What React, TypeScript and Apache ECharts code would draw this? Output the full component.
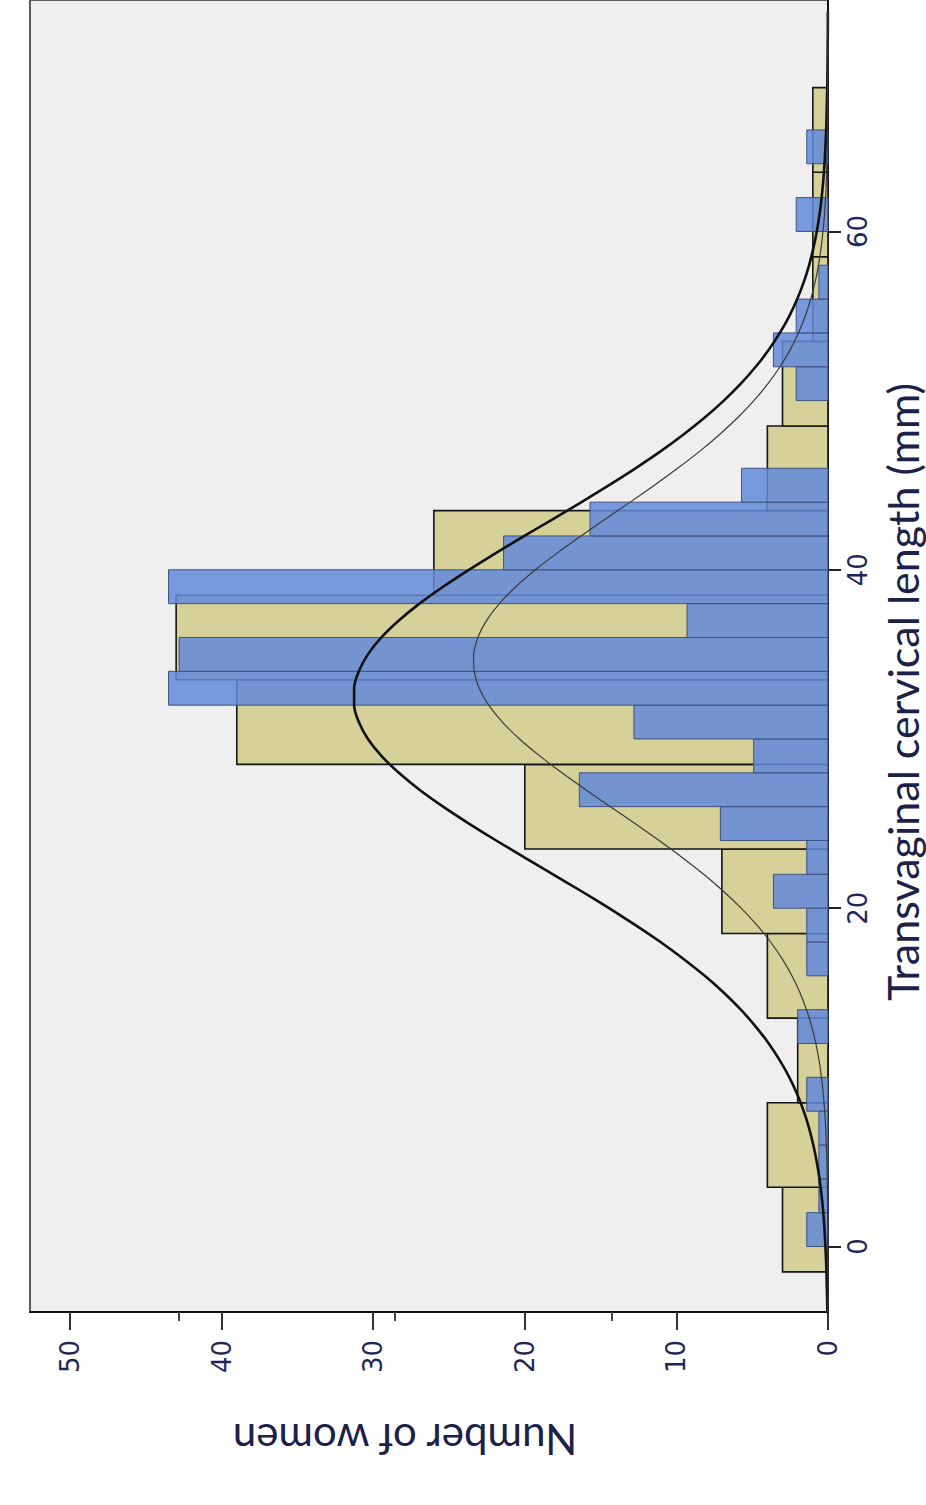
import React, { useEffect, useRef } from "react";
import * as echarts from "echarts";

// Transvaginal cervical length histograms (mm) – counts of women
const tanBinEdges = [-1.5, 3.5, 8.5, 13.5, 18.5, 23.5, 28.5, 33.5, 38.5, 43.5, 48.5, 53.5, 58.5, 63.5, 68.5];
const tanCounts = [3, 4, 2, 4, 7, 20, 39, 43, 26, 4, 3, 1, 1, 1];

const blueBinEdges = [0, 2, 4, 6, 8, 10, 12, 14, 16, 18, 20, 22, 24, 26, 28, 30, 32, 34, 36, 38, 40, 42, 44, 46, 48, 50, 52, 54, 56, 58, 60, 62, 64, 66];
const blueCounts = [1.4, 0.6, 0.6, 0.6, 1.4, 0, 2.0, 0, 1.4, 1.4, 3.6, 1.4, 7.1, 16.4, 4.9, 12.8, 43.5, 42.8, 9.3, 43.5, 21.4, 15.7, 5.7, 0, 0, 2.1, 3.6, 2.1, 0.6, 0, 2.1, 0, 1.4];

// Fitted curves (count at each length, 1 mm steps)
const curveMM = [
  -4, -3, -2, -1, 0, 1, 2, 3, 4, 5, 6, 7, 8, 9, 10, 11, 12, 13, 14, 15, 16, 17, 18, 19,
  20, 21, 22, 23, 24, 25, 26, 27, 28, 29, 30, 31, 32, 33, 34, 35, 36, 37, 38, 39, 40, 41,
  42, 43, 44, 45, 46, 47, 48, 49, 50, 51, 52, 53, 54, 55, 56, 57, 58, 59, 60, 61, 62, 63,
  64, 65, 66, 67, 68, 69, 70, 71, 72, 73,
];
const thickFit = [
  0.04, 0.06, 0.09, 0.12, 0.17, 0.23, 0.31, 0.42, 0.56, 0.74, 0.97, 1.25, 1.6, 2.03, 2.55, 3.18,
  3.91, 4.77, 5.75, 6.87, 8.13, 9.53, 11.05, 12.7, 14.44, 16.26, 18.14, 20.03, 21.89, 23.69,
  25.39, 26.95, 28.31, 29.46, 30.35, 30.95, 31.26, 31.26, 30.95, 30.35, 29.46, 28.31, 26.95,
  25.39, 23.69, 21.89, 20.03, 18.14, 16.26, 14.44, 12.7, 11.05, 9.53, 8.13, 6.87, 5.75, 4.77,
  3.91, 3.18, 2.55, 2.03, 1.6, 1.25, 0.97, 0.74, 0.56, 0.42, 0.31, 0.23, 0.17, 0.12, 0.09,
  0.06, 0.04, 0.03, 0.02, 0.01, 0.01,
];
const thinFit = [
  0, 0, 0, 0, 0.01, 0.01, 0.02, 0.03, 0.05, 0.07, 0.11, 0.15, 0.22, 0.31, 0.43, 0.59, 0.8,
  1.07, 1.42, 1.85, 2.38, 3.02, 3.79, 4.69, 5.73, 6.9, 8.2, 9.62, 11.14, 12.73, 14.36, 15.98,
  17.55, 19.02, 20.35, 21.48, 22.38, 23.01, 23.34, 23.38, 23.1, 22.53, 21.68, 20.59, 19.3,
  17.85, 16.3, 14.68, 13.05, 11.45, 9.92, 8.47, 7.15, 5.95, 4.89, 3.96, 3.17, 2.5, 1.95, 1.5,
  1.14, 0.85, 0.63, 0.46, 0.33, 0.23, 0.16, 0.11, 0.08, 0.05, 0.04, 0.02, 0.02, 0.01, 0.01,
  0, 0, 0,
];

const lengthTicks = [0, 20, 40, 60];
const countTicks = [0, 10, 20, 30, 40, 50];
const secondaryTicks = [14.29, 28.57, 42.86];

const xTitle = "Transvaginal cervical length (mm)";
const yTitle = "Number of women";

export default function App() {
  const ref = useRef<HTMLDivElement>(null);

  useEffect(() => {
    if (!ref.current) return;
    const chart = echarts.init(ref.current, undefined, { renderer: "svg" });

    const tanData = tanCounts.map((c, i) => [tanBinEdges[i], tanBinEdges[i + 1], c]);
    const blueData = blueCounts.map((c, i) => [blueBinEdges[i], blueBinEdges[i + 1], c]);

    const makeRender = (style: any) => (params: any, api: any) => {
      const lo = api.value(0);
      const hi = api.value(1);
      const c = api.value(2);
      if (!c) return null;
      const p1 = api.coord([0, hi]);
      const p2 = api.coord([c, lo]);
      return {
        type: "rect",
        shape: {
          x: Math.min(p1[0], p2[0]),
          y: Math.min(p1[1], p2[1]),
          width: Math.abs(p2[0] - p1[0]),
          height: Math.abs(p2[1] - p1[1]),
        },
        style,
      };
    };

    const labelColor = "#1f2658";

    chart.setOption({
      animation: false,
      grid: {
        left: 30,
        right: 98,
        top: -4,
        bottom: 193,
        show: true,
        backgroundColor: "#efefef",
        borderColor: "#5a5a5a",
        borderWidth: 2,
        containLabel: false,
      },
      xAxis: [
        {
          type: "value",
          inverse: true,
          min: 0,
          max: 52.64,
          position: "bottom",
          axisLine: { show: true, onZero: false, lineStyle: { color: "#111", width: 2 } },
          axisTick: {
            show: true,
            length: 18,
            customValues: countTicks,
            lineStyle: { color: "#333", width: 2 },
          },
          axisLabel: {
            show: true,
            customValues: countTicks,
            rotate: 90,
            margin: 28,
            fontSize: 26,
            fontFamily: "DejaVu Sans",
            color: labelColor,
          },
          splitLine: { show: false },
        },
        {
          type: "value",
          inverse: true,
          min: 0,
          max: 52.64,
          position: "bottom",
          axisLine: { show: false, onZero: false },
          axisTick: {
            show: true,
            length: 9,
            customValues: secondaryTicks,
            lineStyle: { color: "#444", width: 2 },
          },
          axisLabel: { show: false },
          splitLine: { show: false },
        },
      ],
      yAxis: {
        type: "value",
        position: "right",
        min: -3.87,
        max: 73.68,
        axisLine: { show: true, onZero: false, lineStyle: { color: "#111", width: 2 } },
        axisTick: {
          show: true,
          length: 13,
          customValues: lengthTicks,
          lineStyle: { color: "#222", width: 2 },
        },
        axisLabel: {
          show: true,
          customValues: lengthTicks,
          rotate: 90,
          margin: 17,
          fontSize: 26,
          fontFamily: "DejaVu Sans",
          color: labelColor,
        },
        splitLine: { show: false },
      },
      series: [
        {
          type: "custom",
          name: "tan",
          xAxisIndex: 0,
          yAxisIndex: 0,
          z: 2,
          encode: { x: 2, y: [0, 1] },
          data: tanData,
          renderItem: makeRender({ fill: "#d5d198", stroke: "#151515", lineWidth: 1.6 }),
        },
        {
          type: "custom",
          name: "blue",
          xAxisIndex: 0,
          yAxisIndex: 0,
          z: 3,
          encode: { x: 2, y: [0, 1] },
          data: blueData,
          renderItem: makeRender({ fill: "rgba(98,138,218,0.85)", stroke: "#3f527e", lineWidth: 1 }),
        },
        {
          type: "line",
          name: "fit tan",
          xAxisIndex: 0,
          yAxisIndex: 0,
          z: 5,
          symbol: "none",
          smooth: 0.2,
          lineStyle: { color: "#111", width: 2.6 },
          data: curveMM.map((m, i) => [thickFit[i], m]),
        },
        {
          type: "line",
          name: "fit blue",
          xAxisIndex: 0,
          yAxisIndex: 0,
          z: 5,
          symbol: "none",
          smooth: 0.2,
          lineStyle: { color: "#3a3a3a", width: 1.2 },
          data: curveMM.map((m, i) => [thinFit[i], m]),
        },
      ],
      graphic: [
        {
          type: "text",
          x: 902,
          y: 692,
          rotation: Math.PI / 2,
          style: {
            text: xTitle,
            fontSize: 43,
            fontFamily: "Lato",
            fill: "#1c2148",
            align: "center",
            verticalAlign: "middle",
          },
        },
        {
          type: "text",
          x: 405,
          y: 1440,
          rotation: Math.PI,
          style: {
            text: yTitle,
            fontSize: 42,
            fontFamily: "Lato",
            fill: "#1c2148",
            align: "center",
            verticalAlign: "middle",
          },
        },
      ],
    });

    return () => chart.dispose();
  }, []);

  return (
    <div
      ref={ref}
      style={{ position: "fixed", left: 0, top: 0, width: 926, height: 1505, background: "#fff" }}
    />
  );
}
